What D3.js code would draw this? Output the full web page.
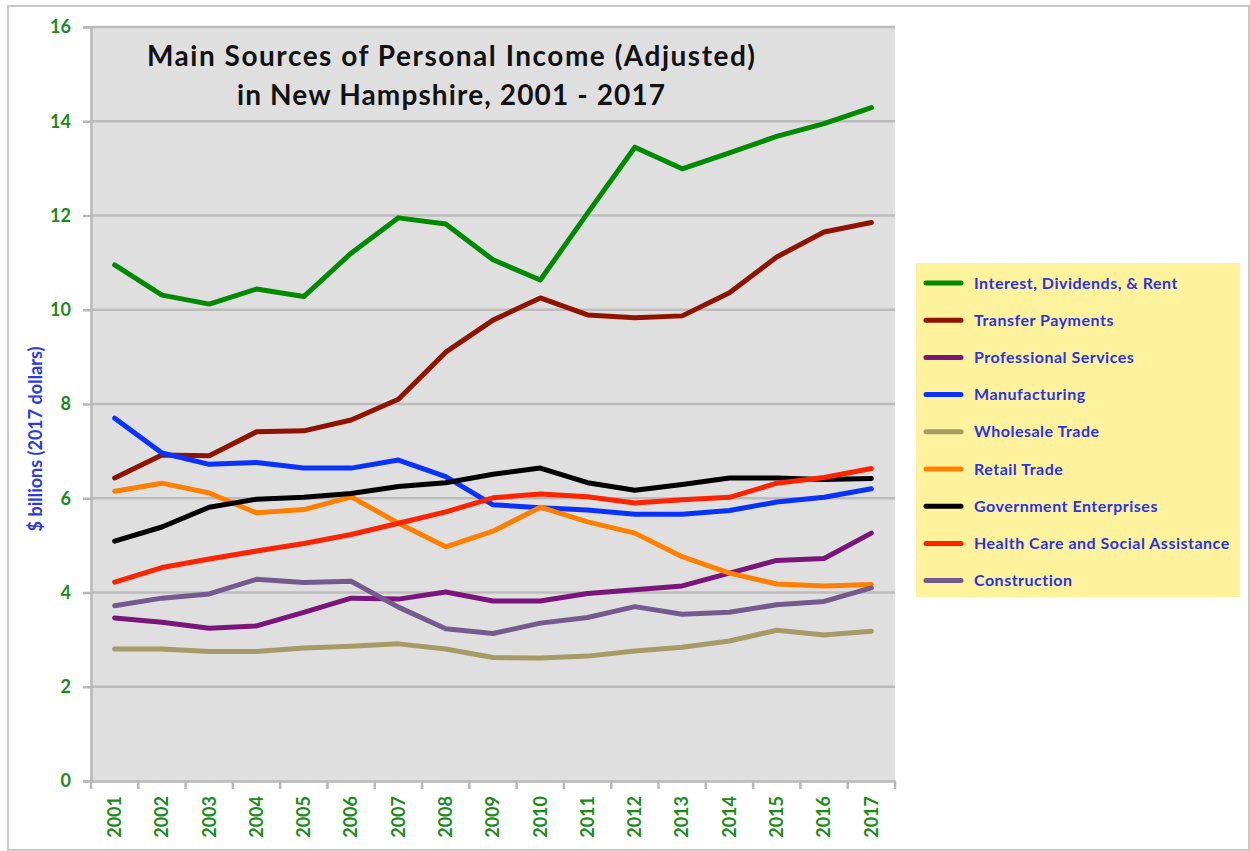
<!DOCTYPE html>
<html><head><meta charset="utf-8">
<script src="https://cdn.jsdelivr.net/npm/d3@7"></script>
<style>body{margin:0;background:#fff}svg{display:block}</style>
</head><body>
<svg id="c" width="1250" height="851"></svg>
<script>
const years = ["2001","2002","2003","2004","2005","2006","2007","2008","2009","2010","2011","2012","2013","2014","2015","2016","2017"];
const seriesNames = ["Interest, Dividends, & Rent","Transfer Payments","Professional Services","Manufacturing","Wholesale Trade","Retail Trade","Government Enterprises","Health Care and Social Assistance","Construction"];
const seriesColors = ["#008a00","#8f1300","#7a157a","#0a32ff","#a69a66","#ff8000","#000000","#ff2400","#745a8e"];
const interest = [10.95,10.31,10.12,10.44,10.28,11.2,11.95,11.82,11.06,10.63,12.05,13.45,12.99,13.33,13.68,13.95,14.29];
const transfer = [6.43,6.92,6.9,7.41,7.43,7.66,8.1,9.1,9.78,10.25,9.89,9.83,9.87,10.36,11.12,11.65,11.85];
const professional = [3.46,3.37,3.24,3.29,3.58,3.88,3.86,4.01,3.82,3.82,3.98,4.06,4.14,4.41,4.68,4.72,5.26];
const manufacturing = [7.7,6.96,6.72,6.76,6.64,6.64,6.81,6.46,5.86,5.8,5.75,5.66,5.66,5.74,5.92,6.02,6.2];
const wholesale = [2.8,2.8,2.75,2.75,2.82,2.86,2.91,2.8,2.62,2.61,2.65,2.76,2.84,2.97,3.2,3.1,3.18];
const retail = [6.15,6.32,6.11,5.69,5.76,6.03,5.47,4.97,5.3,5.81,5.5,5.26,4.76,4.41,4.18,4.14,4.17];
const government = [5.09,5.39,5.81,5.98,6.02,6.1,6.25,6.33,6.51,6.64,6.33,6.17,6.29,6.43,6.43,6.4,6.42];
const health = [4.22,4.53,4.71,4.88,5.04,5.23,5.47,5.71,6.01,6.09,6.03,5.9,5.97,6.02,6.32,6.44,6.63];
const construction = [3.72,3.88,3.97,4.28,4.21,4.24,3.69,3.23,3.13,3.35,3.47,3.7,3.54,3.58,3.74,3.81,4.1];
const seriesValues = [interest,transfer,professional,manufacturing,wholesale,retail,government,health,construction];
const yTicks = [0,2,4,6,8,10,12,14,16];
const titleLines = ["Main Sources of Personal Income (Adjusted)","in New Hampshire, 2001 - 2017"];
const yLabel = "$ billions (2017 dollars)";

const svg = d3.select("#c");
const L = 91, R = 895, T = 27, B = 781;
const font = "Lato, 'Open Sans', sans-serif";

svg.append("rect").attr("x",8).attr("y",6).attr("width",1241).attr("height",844)
  .attr("fill","#fff").attr("stroke","#c8c8c8").attr("stroke-width",2);

const x = d3.scaleBand().domain(years).range([L,R]);
const y = d3.scaleLinear().domain([0,16]).range([B,T]);

svg.append("rect").attr("x",L).attr("y",T).attr("width",R-L).attr("height",B-T).attr("fill","#dfdfdf");

// grid
svg.append("g").selectAll("line").data(yTicks.filter(d=>d>0)).join("line")
  .attr("x1",L).attr("x2",R).attr("y1",d=>y(d)).attr("y2",d=>y(d))
  .attr("stroke","#bcbcbc").attr("stroke-width",2.5);

// y axis
const ya = svg.append("g").attr("transform",`translate(${L},0)`)
  .call(d3.axisLeft(y).tickValues(yTicks).tickSize(8).tickPadding(12).tickFormat(d3.format("d")));
ya.select(".domain").attr("stroke","#b8b8b8").attr("stroke-width",2.5);
ya.selectAll(".tick line").attr("stroke","#b8b8b8").attr("stroke-width",2.5);
ya.selectAll(".tick text").attr("fill","#1a8a1a").attr("font-family",font).attr("font-weight","bold").attr("font-size",18);

// x axis
const xa = svg.append("g").attr("transform",`translate(0,${B})`)
  .call(d3.axisBottom(x).tickSize(0).tickPadding(0));
xa.select(".domain").attr("stroke","#b8b8b8").attr("stroke-width",2.5);
xa.selectAll(".tick text").attr("fill","#1a8a1a").attr("font-family",font).attr("font-weight","bold").attr("font-size",18)
  .attr("transform","rotate(-90)").attr("text-anchor","end").attr("dy","0.35em").attr("x",-15).attr("y",0);
xa.append("g").selectAll("line").data(years.concat(["end"])).join("line")
  .attr("x1",(d,i)=>L+i*x.step()).attr("x2",(d,i)=>L+i*x.step())
  .attr("y1",0).attr("y2",8).attr("stroke","#b8b8b8").attr("stroke-width",2.5);

// lines
const line = d3.line().x((d,i)=>x(years[i])+x.bandwidth()/2).y(d=>y(d));
svg.append("g").selectAll("path").data(seriesValues).join("path")
  .attr("d",line).attr("fill","none").attr("stroke",(d,i)=>seriesColors[i])
  .attr("stroke-width",5).attr("stroke-linejoin","round").attr("stroke-linecap","round");

// title
const titleWidths = [608,428];
svg.append("g").selectAll("text").data(titleLines).join("text")
  .attr("x",451).attr("y",(d,i)=>66+i*39).attr("text-anchor","middle")
  .attr("font-family",font).attr("font-weight","bold").attr("font-size",28).attr("fill","#111")
  .attr("textLength",(d,i)=>titleWidths[i]).attr("lengthAdjust","spacing")
  .text(d=>d);

// y label
svg.append("text").attr("transform","translate(42,439) rotate(-90)").attr("text-anchor","middle")
  .attr("font-family",font).attr("font-weight","bold").attr("font-size",18).attr("fill","#2b3be0")
  .text(yLabel);

// legend
const lg = svg.append("g");
lg.append("rect").attr("x",916).attr("y",263).attr("width",324).attr("height",334).attr("fill","#fff29c");
const li = lg.selectAll("g").data(seriesNames).join("g")
  .attr("transform",(d,i)=>`translate(0,${283+i*37.2})`);
li.append("line").attr("x1",926).attr("x2",961).attr("y1",0).attr("y2",0)
  .attr("stroke",(d,i)=>seriesColors[i]).attr("stroke-width",5).attr("stroke-linecap","round");
li.append("text").attr("x",974).attr("y",0).attr("dy","0.35em")
  .attr("font-family",font).attr("font-weight","bold").attr("font-size",16).attr("letter-spacing",0.5)
  .attr("fill","#2a35e0").text(d=>d);
</script>
</body></html>
